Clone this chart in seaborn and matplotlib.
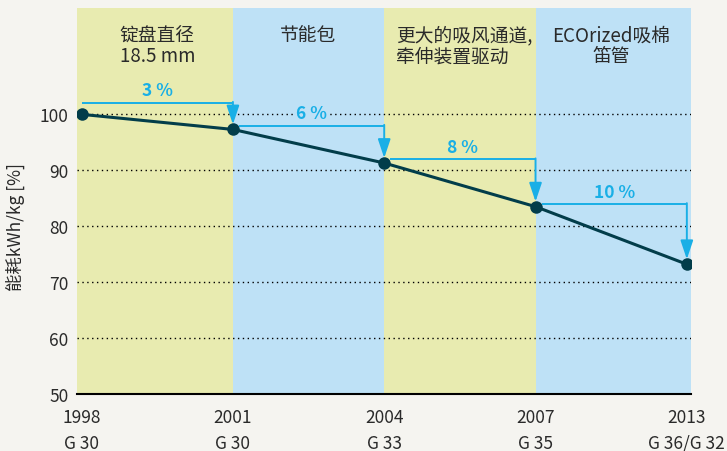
import numpy as np
import pandas as pd
import seaborn as sns
import matplotlib.pyplot as plt

# data
years = ["1998", "2001", "2004", "2007", "2013"]
models = ["G 30", "G 30", "G 33", "G 35", "G 36/G 32"]
energy = [100.0, 97.3, 91.3, 83.5, 73.2]
savings = ["3 %", "6 %", "8 %", "10 %"]
arrow_levels = [102.1, 98.0, 92.0, 84.0]
stages = ["锭盘直径\n18.5 mm", "节能包", "更大的吸风通道,\n牵伸装置驱动", "ECOrized吸棉\n笛管"]

yellow = "#e8ebb0"
blue = "#bee1f6"
stage_colors = [yellow, blue, yellow, blue]
line_color = "#023d4a"
arrow_color = "#19afe6"
text_color = "#2a2a2a"
bg = "#f5f4f0"

sns.set_theme(style="white")
plt.rcParams["font.family"] = ["Noto Sans CJK SC", "DejaVu Sans"]

df = pd.DataFrame({"pos": np.arange(len(years)), "energy": energy})

fig = plt.figure(figsize=(7.27, 4.52), dpi=100, facecolor=bg)
ax = fig.add_axes([0.106, 0.126, 0.845, 0.854])
ax.set_facecolor(bg)

# coloured stage bands
edges = [-0.03, 1, 2, 3, 4.03]
for i, c in enumerate(stage_colors):
    ax.axvspan(edges[i], edges[i + 1], color=c, lw=0, zorder=0)

# dotted grid lines
for v in [60, 70, 80, 90, 100]:
    ax.axhline(v, color="black", lw=1, ls=(0, (1, 2.5)), zorder=1)

sns.lineplot(data=df, x="pos", y="energy", color=line_color, lw=2.2,
             marker="o", markersize=9, markeredgewidth=0, ax=ax, zorder=5)

# saving arrows
for i, (lab, lvl) in enumerate(zip(savings, arrow_levels)):
    x0 = 0 if i == 0 else i + 0.04
    x1 = i + 1
    ax.plot([x0, x1], [lvl, lvl], color=arrow_color, lw=1.4, zorder=3,
            solid_capstyle="butt")
    ax.annotate("", xy=(x1, energy[i + 1] + 0.9), xytext=(x1, lvl + 0.12),
                arrowprops=dict(arrowstyle="-|>,head_length=0.95,head_width=0.32",
                                color=arrow_color, lw=1.4, shrinkA=0, shrinkB=0),
                zorder=4)
    ax.text((x0 + x1) / 2, lvl + 2.2, lab, color=arrow_color, fontsize=12.5,
            fontweight="bold", ha="center", va="center", zorder=4,
            bbox=dict(boxstyle="square,pad=0.15", fc=stage_colors[i], ec="none"))

# stage titles
trans = ax.get_xaxis_transform()
for i, s in enumerate(stages):
    if i == 2:
        ax.text(i + 0.08, 0.958, s, transform=trans, ha="left", va="top",
                fontsize=13.5, color=text_color, linespacing=1.0)
    else:
        ax.text(i + 0.5, 0.958, s, transform=trans, ha="center", va="top",
                fontsize=13.5, color=text_color, linespacing=1.0)

ax.set_xlim(-0.03, 4.03)
ax.set_ylim(50, 119)
ax.set_xticks(range(len(years)))
ax.set_xticklabels([f"{y}\n{m}" for y, m in zip(years, models)],
                   fontsize=12.5, color=text_color, linespacing=1.55)
ax.set_yticks([50, 60, 70, 80, 90, 100])
ax.tick_params(axis="y", labelsize=12.5, labelcolor=text_color, length=0, pad=6)
ax.tick_params(axis="x", length=0, pad=10)
ax.set_xlabel("")
ax.set_ylabel("能耗kWh/kg [%]", fontsize=12.5, color=text_color)
ax.yaxis.set_label_coords(-0.085, 0.435)

for side in ["top", "right", "left"]:
    ax.spines[side].set_visible(False)
ax.spines["bottom"].set_color("black")
ax.spines["bottom"].set_linewidth(1.5)
ax.spines["bottom"].set_zorder(6)

fig.savefig("out.png", dpi=100, facecolor=bg)
